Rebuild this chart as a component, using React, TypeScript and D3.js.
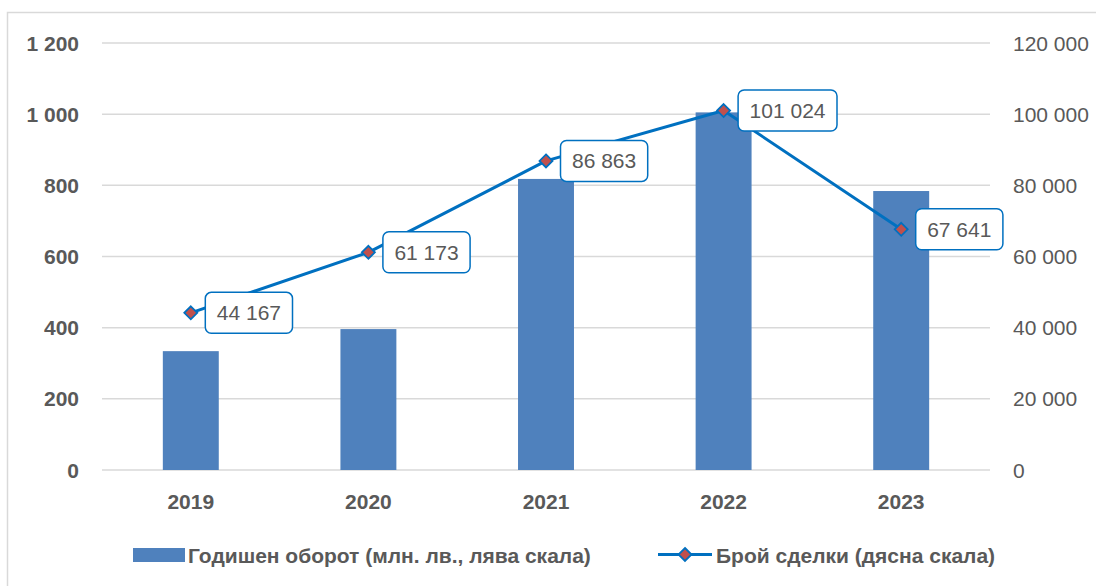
import React from "react";
import * as d3 from "d3";

const years = ["2019", "2020", "2021", "2022", "2023"];
const turnover = [334, 396, 818, 1005, 784];
const deals = [44167, 61173, 86863, 101024, 67641];
const leftTicks = [0, 200, 400, 600, 800, 1000, 1200];
const rightTicks = [0, 20000, 40000, 60000, 80000, 100000, 120000];
const legendLabels = ["Годишен оборот (млн. лв., лява скала)", "Брой сделки (дясна скала)"];

const W = 1096;
const H = 586;
const FONT = "'Liberation Sans', Arial, sans-serif";
const TEXT = "#595959";
const BAR = "#4F81BD";
const LINE = "#0070C0";
const MARK = "#C0504D";
const GRID = "#D9D9D9";

const loc = d3.formatLocale({ thousands: " ", grouping: [3], decimal: ",", currency: ["", ""] });
const fmt = loc.format(",d");

export default function App() {
  const x = d3.scaleBand<string>().domain(years).range([102, 990]).paddingInner(0.685).paddingOuter(0.3425);
  const yL = d3.scaleLinear().domain([0, 1200]).range([470, 43]);
  const yR = d3.scaleLinear().domain([0, 120000]).range([470, 43]);
  const cx = (y: string) => (x(y) as number) + x.bandwidth() / 2;
  const line = d3.line<number>().x((_, i) => cx(years[i])).y((d) => yR(d));
  const diamond = (px: number, py: number, r: number) =>
    `M${px},${py - r}L${px + r},${py}L${px},${py + r}L${px - r},${py}Z`;

  return (
    <svg width={W} height={H} style={{ position: "absolute", left: 0, top: 0, background: "#fff" }} fontFamily={FONT}>
      <rect x={7.5} y={12.5} width={W + 10} height={H + 10} fill="#fff" stroke={GRID} strokeWidth={1.5} />
      {leftTicks.map((t) => (
        <line key={t} x1={102} x2={990} y1={yL(t)} y2={yL(t)} stroke={GRID} strokeWidth={1.5} />
      ))}
      {leftTicks.map((t) => (
        <text key={t} x={79} y={yL(t)} dy="0.36em" textAnchor="end" fontSize={21} fontWeight="bold" fill={TEXT}>
          {fmt(t)}
        </text>
      ))}
      {rightTicks.map((t) => (
        <text key={t} x={1013} y={yR(t)} dy="0.36em" textAnchor="start" fontSize={21} fill={TEXT}>
          {fmt(t)}
        </text>
      ))}
      {years.map((y, i) => (
        <rect key={y} x={x(y)} y={yL(turnover[i])} width={x.bandwidth()} height={yL(0) - yL(turnover[i])} fill={BAR} />
      ))}
      {years.map((y) => (
        <text key={y} x={cx(y)} y={501} dy="0.36em" textAnchor="middle" fontSize={21} fontWeight="bold" fill={TEXT}>
          {y}
        </text>
      ))}
      <path d={line(deals) || ""} fill="none" stroke={LINE} strokeWidth={3} strokeLinejoin="round" />
      {deals.map((d, i) => (
        <path key={i} d={diamond(cx(years[i]), yR(d), 6.5)} fill={MARK} stroke={LINE} strokeWidth={1.8} />
      ))}
      {deals.map((d, i) => {
        const label = fmt(d);
        const w = label.length * 11.7 + 17;
        const px = cx(years[i]) + 14.5;
        const py = yR(d);
        return (
          <g key={i}>
            <rect x={px} y={py - 20.5} width={w} height={41} rx={6} fill="#fff" stroke={LINE} strokeWidth={1.5} />
            <text x={px + w / 2} y={py} dy="0.36em" textAnchor="middle" fontSize={21} fill={TEXT}>
              {label}
            </text>
          </g>
        );
      })}
      <rect x={133} y={548} width={52} height={14} fill={BAR} />
      <text x={188} y={555} dy="0.36em" fontSize={21} fontWeight="bold" fill={TEXT}>
        {legendLabels[0]}
      </text>
      <line x1={658} x2={712} y1={554.5} y2={554.5} stroke={LINE} strokeWidth={3} />
      <path d={diamond(685, 554.5, 6.5)} fill={MARK} stroke={LINE} strokeWidth={1.8} />
      <text x={716} y={555} dy="0.36em" fontSize={21} fontWeight="bold" fill={TEXT}>
        {legendLabels[1]}
      </text>
    </svg>
  );
}
